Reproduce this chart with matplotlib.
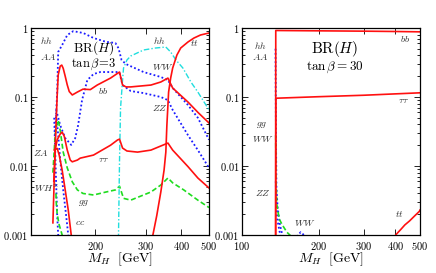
import matplotlib
matplotlib.use("Agg")
import matplotlib.pyplot as plt
from matplotlib.ticker import FixedLocator, FixedFormatter, LogLocator, NullLocator, NullFormatter

plt.rcParams['mathtext.fontset'] = 'cm'
plt.rcParams['font.family'] = 'serif'
plt.rcParams['font.serif'] = ['DejaVu Serif']

# ---- tan(beta) = 3 ----
m3_bb = [142, 143.5, 144.6, 145.8, 147, 148.2, 150.6, 152.5, 154.3, 156.8, 159.4, 162, 166, 173, 181, 192, 203,
         226, 239, 243, 249, 256, 266, 313, 339, 359, 373, 422, 457, 500]
br3_bb = [0.0015, 0.0063, 0.017, 0.046, 0.107, 0.209, 0.28, 0.29, 0.26, 0.2, 0.15, 0.12, 0.107, 0.118, 0.13, 0.128,
          0.149, 0.188, 0.22, 0.23, 0.149, 0.14, 0.14, 0.149, 0.165, 0.188, 0.135, 0.0845, 0.06, 0.042]
m3_tau = [143, 144.6, 147, 150.6, 153, 155.6, 159.4, 163.3, 166, 173, 177, 197, 226, 239, 243, 249, 258, 281,
          313, 359, 373, 422, 457, 500]
br3_tau = [0.006, 0.017, 0.024, 0.029, 0.031, 0.027, 0.017, 0.0122, 0.0115, 0.0122, 0.013, 0.0144, 0.02, 0.0238,
           0.0245, 0.0182, 0.0165, 0.0159, 0.017, 0.0215, 0.017, 0.0098, 0.0067, 0.0048]
m3_cc = [143.5, 147, 149.4, 153, 156.8, 160.7, 164.6, 167]
br3_cc = [0.017, 0.018, 0.0144, 0.0087, 0.0045, 0.0023, 0.001, 0.0006]
m3_tt = [313, 318, 328, 339, 348, 353, 356, 361, 367, 373, 386, 398, 422, 443, 467, 500]
br3_tt = [0.0006, 0.001, 0.0019, 0.0042, 0.0087, 0.0159, 0.039, 0.118, 0.188, 0.263, 0.406, 0.513, 0.627,
          0.716, 0.792, 0.846]
m3_gg = [142, 144.6, 147, 148.2, 150.6, 154.3, 159.4, 166, 173, 181, 197, 218, 235, 243, 251, 266, 313, 339,
         359, 373, 408, 457, 500]
br3_gg = [0.008, 0.028, 0.043, 0.046, 0.033, 0.0159, 0.0094, 0.0059, 0.0045, 0.004, 0.0038, 0.0042, 0.0045,
          0.0051, 0.0034, 0.0032, 0.0042, 0.0053, 0.0067, 0.0057, 0.0045, 0.0032, 0.0025]
m3_g2 = [145.5, 146, 147, 149.4, 153, 155]
br3_g2 = [0.004, 0.0028, 0.002, 0.0014, 0.001, 0.0008]
m3_ww = [144.6, 145.8, 147, 148.2, 153, 159.4, 167.3, 181.4, 197, 218, 235, 241, 247, 256, 295, 339, 359, 373,
         422, 457, 500]
br3_ww = [0.028, 0.06, 0.118, 0.45, 0.567, 0.79, 0.9, 0.846, 0.716, 0.63, 0.606, 0.51, 0.344, 0.30, 0.23, 0.195,
          0.176, 0.135, 0.0765, 0.05, 0.024]
m3_zz = [145.8, 150.6, 156.8, 164.6, 170, 174, 179.6, 187.4, 197, 208, 239, 243, 249, 266, 295, 339, 359, 373,
         422, 457, 500]
br3_zz = [0.065, 0.039, 0.0254, 0.0202, 0.0254, 0.039, 0.09, 0.176, 0.215, 0.23, 0.23, 0.222, 0.149, 0.122,
          0.114, 0.1, 0.09, 0.065, 0.028, 0.017, 0.0094]
m3_za = [143.5, 144.6, 145.8, 147, 148.2, 149.4]
br3_za = [0.05, 0.017, 0.0053, 0.0019, 0.001, 0.0006]
m3_wh = [145.8, 148.2, 150.6, 154.3, 158, 160.7, 162]
br3_wh = [0.055, 0.028, 0.0122, 0.0045, 0.0019, 0.001, 0.0007]
m3_hh = [239, 241, 243, 245, 249, 251, 258, 266, 295, 325, 353, 367, 383, 405, 432, 457, 500]
br3_hh = [0.0006, 0.001, 0.0122, 0.069, 0.176, 0.263, 0.344, 0.393, 0.48, 0.513, 0.53, 0.449, 0.344, 0.263,
          0.165, 0.118, 0.065]

# ---- tan(beta) = 30 ----
m30_bb = [135.5, 135.7, 200, 300, 400, 500]
br30_bb = [0.0005, 0.92, 0.91, 0.9, 0.89, 0.88]
m30_tau = [135.6, 135.8, 200, 300, 400, 500]
br30_tau = [0.0005, 0.096, 0.101, 0.106, 0.111, 0.115]
m30_ww = [135.4, 135.8, 136.5, 138, 141, 144, 150, 160, 166, 170, 175, 180]
br30_ww = [0.5, 0.05, 0.005, 0.0025, 0.0014, 0.001, 0.0007, 0.00085, 0.001, 0.0011, 0.001, 0.0007]
m30_zz = [135.7, 136.2, 137.5, 140, 143]
br30_zz = [0.006, 0.003, 0.0017, 0.0012, 0.0008]
m30_gg = [135.6, 136, 137, 140, 144, 150, 155, 158]
br30_gg = [0.028, 0.006, 0.0028, 0.0017, 0.0014, 0.0011, 0.00098, 0.0009]
m30_tt = [395, 401, 420, 436, 455, 477, 497, 500]
br30_tt = [0.0007, 0.001, 0.0012, 0.0014, 0.0016, 0.0019, 0.0022, 0.0023]

yticks = [0.001, 0.01, 0.1, 1]
ylabels = ['$0.001$', '$0.01$', '$0.1$', '$1$']

red = '#ff1010'
blue = '#1a1aff'
green = '#1fdc1f'
cyan = '#20dede'
dot = (0, (1, 1.3))
dash = (0, (3, 1.6))
dashdot = (0, (4, 1.5, 1, 1.5))

fig = plt.figure(figsize=(4.36, 2.73), dpi=100)
ax1 = fig.add_axes([31/436, 38/273, 178/436, 207/273])
ax2 = fig.add_axes([242/436, 38/273, 178/436, 207/273])

ax1.plot(m3_ww, br3_ww, color=blue, ls=dot, lw=1.3)
ax1.plot(m3_zz, br3_zz, color=blue, ls=dot, lw=1.3)
ax1.plot(m3_za, br3_za, color=blue, ls=dot, lw=1.3)
ax1.plot(m3_wh, br3_wh, color=blue, ls=dot, lw=1.3)
ax1.plot(m3_gg, br3_gg, color=green, ls=dash, lw=1.2)
ax1.plot(m3_g2, br3_g2, color=green, ls=dash, lw=1.2)
ax1.plot(m3_hh, br3_hh, color=cyan, ls=dashdot, lw=1.0)
ax1.plot(m3_bb, br3_bb, color=red, lw=1.2)
ax1.plot(m3_tau, br3_tau, color=red, lw=1.2)
ax1.plot(m3_cc, br3_cc, color=red, lw=1.2)
ax1.plot(m3_tt, br3_tt, color=red, lw=1.2)

ax2.plot(m30_ww, br30_ww, color=blue, ls=dot, lw=1.3)
ax2.plot(m30_zz, br30_zz, color=blue, ls=dot, lw=1.3)
ax2.plot(m30_gg, br30_gg, color=green, ls=dash, lw=1.2)
ax2.plot(m30_bb, br30_bb, color=red, lw=1.2)
ax2.plot(m30_tau, br30_tau, color=red, lw=1.2)
ax2.plot(m30_tt, br30_tt, color=red, lw=1.2)

for ax, xt in [(ax1, [200, 300, 400, 500]), (ax2, [100, 200, 300, 400, 500])]:
    ax.set_xscale('log')
    ax.set_yscale('log')
    ax.set_ylim(0.001, 1)
    ax.xaxis.set_major_locator(FixedLocator(xt))
    ax.xaxis.set_major_formatter(FixedFormatter(['$%d$' % v for v in xt]))
    ax.xaxis.set_minor_locator(NullLocator())
    ax.yaxis.set_major_locator(FixedLocator(yticks))
    ax.yaxis.set_major_formatter(FixedFormatter(ylabels))
    ax.yaxis.set_minor_locator(LogLocator(base=10, subs=range(2, 10)))
    ax.yaxis.set_minor_formatter(NullFormatter())
    ax.tick_params(which='both', direction='in', top=True, right=True, labelsize=7.5, pad=2, width=0.6)
    ax.tick_params(axis='x', which='major', pad=3.5)
    ax.tick_params(which='major', length=4)
    ax.tick_params(which='minor', length=2)
    for s in ax.spines.values():
        s.set_linewidth(0.9)
    ax.set_xlabel(r'$M_H\ \ [\mathrm{GeV}]$', fontsize=10, labelpad=-1)

ax1.set_xlim(119, 500)
ax2.set_xlim(100, 500)

fs = 7
c = '#333333'
ax1.text(128, 0.67, '$hh$', fontsize=fs, color=c, va='center')
ax1.text(128, 0.38, '$AA$', fontsize=fs, color=c, va='center')
ax1.text(197, 0.51, r'$\mathrm{BR}(H)$', fontsize=9.5, ha='center', va='center')
ax1.text(197, 0.30, r'$\tan\beta\!=\!3$', fontsize=9, ha='center', va='center')
ax1.text(204, 0.122, '$bb$', fontsize=fs, color=c, va='center')
ax1.text(318, 0.67, '$hh$', fontsize=fs, color=c, va='center')
ax1.text(428, 0.6, '$tt$', fontsize=fs, color=c, va='center')
ax1.text(315, 0.27, '$WW$', fontsize=fs, color=c, va='center')
ax1.text(315, 0.069, '$ZZ$', fontsize=fs, color=c, va='center')
ax1.text(121, 0.0154, '$ZA$', fontsize=fs, color=c, va='center')
ax1.text(204, 0.0126, r'$\tau\tau$', fontsize=fs, color=c, va='center')
ax1.text(122, 0.0048, r'$WH^{\pm}$', fontsize=fs, color=c, va='center')
ax1.text(174, 0.0029, '$gg$', fontsize=fs, color=c, va='center')
ax1.text(170, 0.0015, '$cc$', fontsize=fs, color=c, va='center')

ax2.text(111, 0.567, '$hh$', fontsize=fs, color=c, va='center')
ax2.text(109, 0.38, '$AA$', fontsize=fs, color=c, va='center')
ax2.text(231, 0.5, r'$\mathrm{BR}(H)$', fontsize=11, ha='center', va='center')
ax2.text(231, 0.27, r'$\tan\beta = 30$', fontsize=9.5, ha='center', va='center')
ax2.text(418, 0.69, '$bb$', fontsize=fs, color=c, va='center')
ax2.text(410, 0.088, r'$\tau\tau$', fontsize=fs, color=c, va='center')
ax2.text(113, 0.039, '$gg$', fontsize=fs, color=c, va='center')
ax2.text(109, 0.025, '$WW$', fontsize=fs, color=c, va='center')
ax2.text(112, 0.004, '$ZZ$', fontsize=fs, color=c, va='center')
ax2.text(160, 0.0015, '$WW$', fontsize=fs, color=c, va='center')
ax2.text(398, 0.002, '$tt$', fontsize=fs, color=c, va='center')

fig.savefig('out.png', dpi=100)
